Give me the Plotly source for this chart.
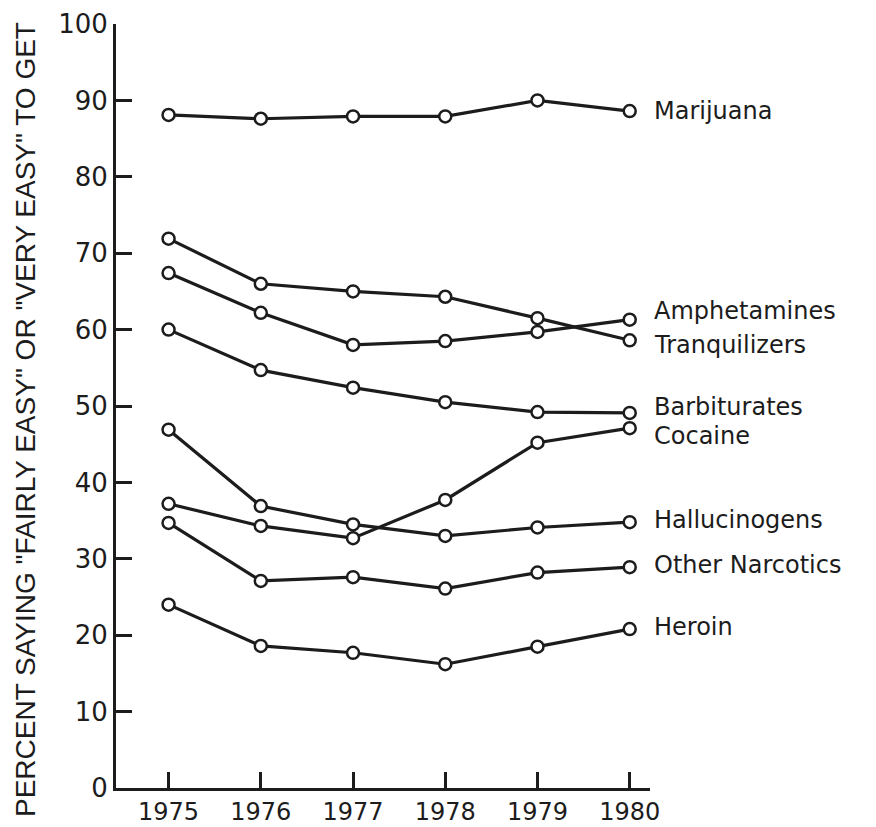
import plotly.graph_objects as go

# Survey years
years = [1975, 1976, 1977, 1978, 1979, 1980]

# Percent of seniors saying each drug is "fairly easy" or "very easy" to get
marijuana = [88.1, 87.6, 87.9, 87.9, 90.0, 88.6]
tranquilizers = [71.9, 66.0, 65.0, 64.3, 61.5, 58.6]
amphetamines = [67.4, 62.2, 58.0, 58.5, 59.7, 61.3]
barbiturates = [60.0, 54.7, 52.4, 50.5, 49.2, 49.1]
hallucinogens = [46.9, 36.9, 34.5, 33.0, 34.1, 34.8]
cocaine = [37.2, 34.3, 32.7, 37.7, 45.2, 47.1]
other_narcotics = [34.7, 27.1, 27.6, 26.1, 28.2, 28.9]
heroin = [24.0, 18.6, 17.7, 16.2, 18.5, 20.8]

series_names = ["Marijuana", "Amphetamines", "Tranquilizers", "Barbiturates",
                "Cocaine", "Hallucinogens", "Other Narcotics", "Heroin"]
series_values = [marijuana, amphetamines, tranquilizers, barbiturates,
                 cocaine, hallucinogens, other_narcotics, heroin]
# vertical nudge (px) of each end label so close neighbours don't collide
label_nudge = [0, 9, -5, 6, -8, 2, 2, 2]

y_ticks = list(range(0, 101, 10))

ink = "#1c1c1c"
label_font = "DejaVu Sans, Verdana, sans-serif"

fig = go.Figure()
for name, vals in zip(series_names, series_values):
    fig.add_trace(go.Scatter(
        x=years, y=vals, mode="lines+markers", name=name,
        line=dict(color=ink, width=3.2),
        marker=dict(symbol="circle", size=12, color="white",
                    line=dict(color=ink, width=2.5)),
        cliponaxis=False, showlegend=False, hoverinfo="x+y+name",
    ))

annotations = []
for name, vals, dy in zip(series_names, series_values, label_nudge):
    annotations.append(dict(
        x=years[-1], y=vals[-1], xref="x", yref="y",
        text=name, showarrow=False, xanchor="left", yanchor="middle",
        xshift=22, yshift=dy,
        font=dict(family=label_font, size=24, color=ink),
    ))

# rotated y-axis caption
annotations.append(dict(
    x=0, y=0.5, xref="paper", yref="paper",
    text='PERCENT SAYING "FAIRLY EASY" OR "VERY EASY" TO GET',
    textangle=-90, showarrow=False, xanchor="center", yanchor="middle",
    xshift=-91, yshift=-14,
    font=dict(family="Liberation Sans, Arial, sans-serif", size=28, color=ink),
))

fig.update_layout(
    width=876, height=827,
    margin=dict(l=116, r=226, t=24, b=39, autoexpand=False),
    paper_bgcolor="white", plot_bgcolor="white",
    annotations=annotations,
    xaxis=dict(
        range=[1974.43, 1980.22], tickvals=years,
        ticks="inside", ticklen=16, tickwidth=2.5, tickcolor=ink,
        showline=True, linewidth=3, linecolor=ink,
        showgrid=False, zeroline=False, automargin=False,
        tickfont=dict(family=label_font, size=24, color=ink),
    ),
    yaxis=dict(
        range=[0, 100], tickvals=y_ticks,
        ticks="inside", ticklen=16, tickwidth=2.5, tickcolor=ink,
        showline=True, linewidth=3, linecolor=ink,
        showgrid=False, zeroline=False, automargin=False,
        tickfont=dict(family=label_font, size=26, color=ink),
    ),
)

fig.write_html("out.html")
